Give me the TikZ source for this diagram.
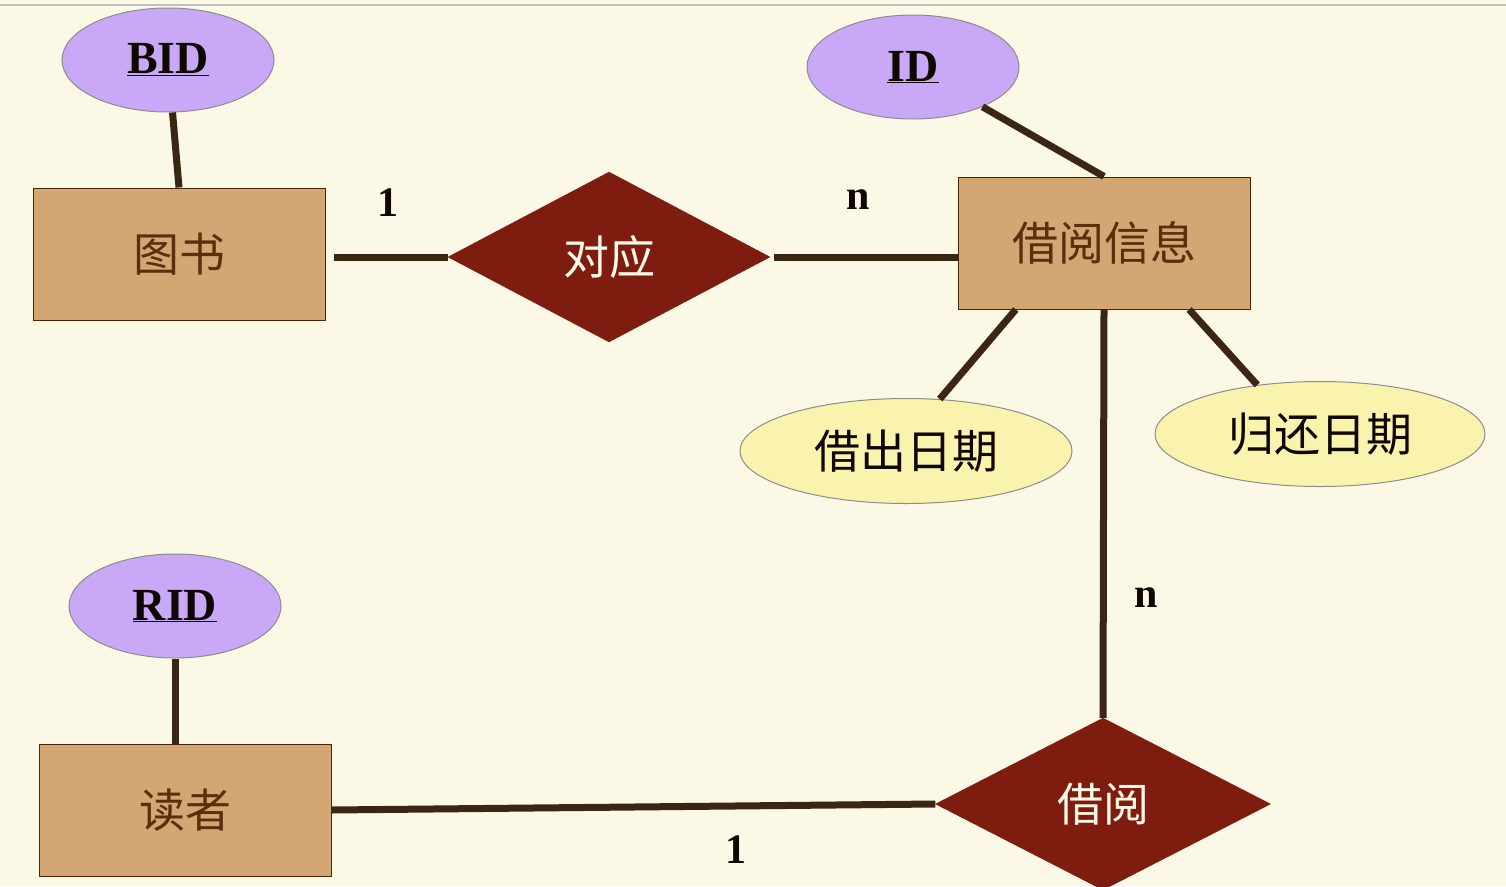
\documentclass[tikz,border=0pt]{standalone}
\usepackage{fontspec}
\setmainfont{Liberation Serif}
\newfontfamily\cjk{Noto Sans CJK SC}
\usepackage{xcolor}
\usepackage{tikz}
\usetikzlibrary{shapes.geometric}
\definecolor{paper}{HTML}{FCF8E6}
\definecolor{lilac}{HTML}{C9A9F7}
\definecolor{tan}{HTML}{D3A673}
\definecolor{wine}{HTML}{7F1C10}
\definecolor{cream}{HTML}{F9F3AE}
\definecolor{wire}{HTML}{3B2613}
\definecolor{ink}{HTML}{5B2E0C}
\tikzset{
	entity node/.style={rectangle,draw=ink!80!black,line width=1pt,fill=tan,
		minimum width=292pt,minimum height=132pt,inner sep=0pt,
		font=\cjk\fontsize{46}{50}\selectfont,text=ink},
	rel node/.style={diamond,fill=wine,draw=wine,inner sep=0pt,
		font=\cjk\fontsize{46}{50}\selectfont,text=paper},
	key node/.style={ellipse,draw=black!45,line width=1pt,fill=lilac,
		minimum width=212pt,minimum height=104pt,inner sep=0pt,
		font=\bfseries\fontsize{46}{50}\selectfont,text=black!85!ink},
	attr node/.style={ellipse,draw=black!45,line width=1pt,fill=cream,
		minimum width=330pt,minimum height=105pt,inner sep=0pt,
		font=\cjk\fontsize{46}{50}\selectfont,text=black!85!ink},
	card/.style={font=\bfseries\fontsize{42}{44}\selectfont,text=black!85!ink},
	link/.style={draw=wire,line width=7pt}
}

\begin{document}
\begin{tikzpicture}[x=1pt,y=-1pt]
	% page and top rule
	\fill[paper] (0,0) rectangle (1506,886);
	\useasboundingbox (0,0) rectangle (1506,886);
	\draw[black!25,line width=2pt] (0,5) -- (1506,5);
	% entities
	\node [entity node] (book) at (179,254) {图书};
	\node [entity node] (info) at (1104,243) {借阅信息};
	\node [entity node] (reader) at (185,810) {读者};
	% relations
	\node [rel node,minimum width=322pt,minimum height=170pt] (match) at (609,257) {对应};
	\node [rel node,minimum width=335pt,minimum height=172pt] (borrow) at (1103,804) {借阅};
	% attributes
	\node [key node] (bid) at (168,60) {\underline{BID}};
	\node [key node] (id) at (913,67) {\underline{ID}};
	\node [key node] (rid) at (175,606) {\underline{RID}};
	\node [attr node,minimum width=332pt] (lend) at (906,451) {借出日期};
	\node [attr node] (back) at (1320,434) {归还日期};
	% connectors
	\draw [link] (bid) -- (book.north);
	\draw [link] (id) -- (info.north);
	\draw [link] (rid.south) -- (rid.south |- reader.north);
	\draw [link,shorten <=8pt] (book.east |- match.west) -- (match.west);
	\draw [link,shorten <=4pt] (match.east) -- (match.east -| info.west);
	\draw [link] (info.217) -- (lend.57);
	\draw [link] (info.322) -- (back.142);
	\draw [link] (info.south) -- (borrow.north);
	\draw [link] (reader.east) -- (borrow.west);
	% cardinalities
	\node [card] (c1) at (388,203) {1};
	\node [card] (c2) at (858,200) {n};
	\node [card] (c3) at (1146,598) {n};
	\node [card] (c4) at (736,850) {1};
\end{tikzpicture}
\end{document}
